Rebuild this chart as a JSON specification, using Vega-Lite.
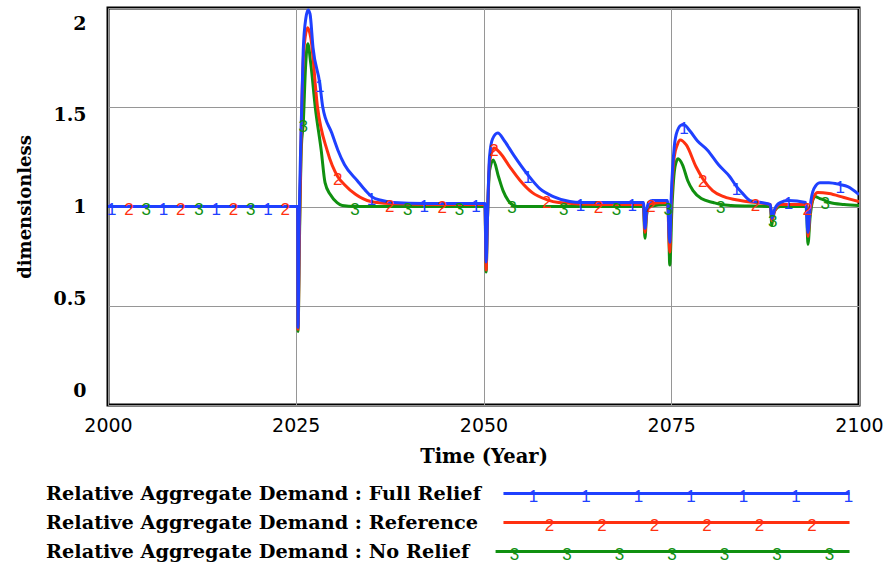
{
  "$schema": "https://vega.github.io/schema/vega-lite/v6.json",
  "background": "white",
  "padding": {"left": 14, "top": 6, "right": 0, "bottom": 0},
  "spacing": 12,
  "config": {
    "view": {"stroke": null},
    "axis": {"ticks": false, "tickSize": 0, "domain": false, "gridColor": "#969696", "gridWidth": 1, "gridOpacity": 1, "labelColor": "black", "titleColor": "black"}
  },
  "datasets": {
    "series": [
      {"s":"No Relief","t":2000,"v":1.0},{"s":"No Relief","t":2005.1,"v":1.0,"m":"3"},{"s":"No Relief","t":2012.1,"v":1.0,"m":"3"},{"s":"No Relief","t":2019.0,"v":1.0,"m":"3"},{"s":"No Relief","t":2025.25,"v":1.0},{"s":"No Relief","t":2025.3,"v":0.37},{"s":"No Relief","t":2025.5,"v":0.85},{"s":"No Relief","t":2025.75,"v":1.3},{"s":"No Relief","t":2026.0,"v":1.42,"m":"3"},{"s":"No Relief","t":2026.3,"v":1.7},{"s":"No Relief","t":2026.6,"v":1.82},{"s":"No Relief","t":2027.0,"v":1.72},{"s":"No Relief","t":2027.6,"v":1.5},{"s":"No Relief","t":2028.4,"v":1.28},{"s":"No Relief","t":2028.9,"v":1.12},{"s":"No Relief","t":2029.6,"v":1.06},{"s":"No Relief","t":2030.5,"v":1.02},{"s":"No Relief","t":2031.2,"v":1.005},{"s":"No Relief","t":2032.9,"v":1.0,"m":"3"},{"s":"No Relief","t":2039.9,"v":1.0,"m":"3"},{"s":"No Relief","t":2046.8,"v":1.0,"m":"3"},{"s":"No Relief","t":2050.2,"v":1.0},{"s":"No Relief","t":2050.35,"v":0.67},{"s":"No Relief","t":2050.5,"v":0.9},{"s":"No Relief","t":2050.8,"v":1.18},{"s":"No Relief","t":2051.3,"v":1.234},{"s":"No Relief","t":2052.0,"v":1.15},{"s":"No Relief","t":2052.6,"v":1.08},{"s":"No Relief","t":2053.3,"v":1.03},{"s":"No Relief","t":2053.8,"v":1.01,"m":"3"},{"s":"No Relief","t":2054.5,"v":1.0},{"s":"No Relief","t":2060.7,"v":1.0,"m":"3"},{"s":"No Relief","t":2067.7,"v":1.0,"m":"3"},{"s":"No Relief","t":2071.3,"v":1.0},{"s":"No Relief","t":2071.5,"v":0.84},{"s":"No Relief","t":2071.7,"v":0.95},{"s":"No Relief","t":2072.0,"v":1.0},{"s":"No Relief","t":2074.5,"v":1.01},{"s":"No Relief","t":2074.6,"v":1.0,"m":"3"},{"s":"No Relief","t":2074.8,"v":0.705},{"s":"No Relief","t":2075.1,"v":1.0},{"s":"No Relief","t":2075.5,"v":1.2},{"s":"No Relief","t":2075.9,"v":1.24},{"s":"No Relief","t":2076.5,"v":1.21},{"s":"No Relief","t":2077.2,"v":1.13},{"s":"No Relief","t":2077.9,"v":1.08},{"s":"No Relief","t":2079.0,"v":1.04},{"s":"No Relief","t":2080.6,"v":1.02},{"s":"No Relief","t":2081.6,"v":1.01,"m":"3"},{"s":"No Relief","t":2083.0,"v":1.005},{"s":"No Relief","t":2088.2,"v":1.0},{"s":"No Relief","t":2088.4,"v":0.905},{"s":"No Relief","t":2088.5,"v":0.94,"m":"3"},{"s":"No Relief","t":2088.8,"v":0.98},{"s":"No Relief","t":2089.5,"v":1.0},{"s":"No Relief","t":2093.0,"v":1.0},{"s":"No Relief","t":2093.2,"v":0.81},{"s":"No Relief","t":2093.5,"v":0.95},{"s":"No Relief","t":2094.1,"v":1.05},{"s":"No Relief","t":2094.8,"v":1.04},{"s":"No Relief","t":2095.5,"v":1.03,"m":"3"},{"s":"No Relief","t":2096.1,"v":1.02},{"s":"No Relief","t":2098.0,"v":1.01},{"s":"No Relief","t":2100.0,"v":1.005},

      {"s":"Reference","t":2000,"v":1.0},{"s":"Reference","t":2002.8,"v":1.0,"m":"2"},{"s":"Reference","t":2009.7,"v":1.0,"m":"2"},{"s":"Reference","t":2016.7,"v":1.0,"m":"2"},{"s":"Reference","t":2023.6,"v":1.0,"m":"2"},{"s":"Reference","t":2025.25,"v":1.0},{"s":"Reference","t":2025.3,"v":0.38},{"s":"Reference","t":2025.5,"v":0.9},{"s":"Reference","t":2025.8,"v":1.5},{"s":"Reference","t":2026.1,"v":1.8},{"s":"Reference","t":2026.6,"v":1.9},{"s":"Reference","t":2027.0,"v":1.85},{"s":"Reference","t":2027.9,"v":1.5},{"s":"Reference","t":2029.2,"v":1.28},{"s":"Reference","t":2030.6,"v":1.15,"m":"2"},{"s":"Reference","t":2031.5,"v":1.11},{"s":"Reference","t":2033.0,"v":1.06},{"s":"Reference","t":2035.0,"v":1.025},{"s":"Reference","t":2037.5,"v":1.015,"m":"2"},{"s":"Reference","t":2044.5,"v":1.01,"m":"2"},{"s":"Reference","t":2050.2,"v":1.01},{"s":"Reference","t":2050.35,"v":0.68},{"s":"Reference","t":2050.5,"v":0.9},{"s":"Reference","t":2050.8,"v":1.22},{"s":"Reference","t":2051.4,"v":1.295,"m":"2"},{"s":"Reference","t":2052.2,"v":1.27},{"s":"Reference","t":2053.5,"v":1.2},{"s":"Reference","t":2054.9,"v":1.13},{"s":"Reference","t":2056.5,"v":1.07},{"s":"Reference","t":2058.4,"v":1.035,"m":"2"},{"s":"Reference","t":2060.0,"v":1.02},{"s":"Reference","t":2065.3,"v":1.01,"m":"2"},{"s":"Reference","t":2071.3,"v":1.01},{"s":"Reference","t":2071.5,"v":0.87},{"s":"Reference","t":2071.7,"v":0.96},{"s":"Reference","t":2072.0,"v":1.01},{"s":"Reference","t":2072.3,"v":1.015,"m":"2"},{"s":"Reference","t":2074.5,"v":1.02},{"s":"Reference","t":2074.8,"v":0.77},{"s":"Reference","t":2075.0,"v":1.0},{"s":"Reference","t":2075.4,"v":1.25},{"s":"Reference","t":2075.8,"v":1.31},{"s":"Reference","t":2076.2,"v":1.335},{"s":"Reference","t":2077.0,"v":1.31},{"s":"Reference","t":2078.3,"v":1.2},{"s":"Reference","t":2079.2,"v":1.14,"m":"2"},{"s":"Reference","t":2080.5,"v":1.08},{"s":"Reference","t":2082.0,"v":1.05},{"s":"Reference","t":2084.2,"v":1.03},{"s":"Reference","t":2086.2,"v":1.02,"m":"2"},{"s":"Reference","t":2088.2,"v":1.01},{"s":"Reference","t":2088.4,"v":0.93},{"s":"Reference","t":2088.8,"v":0.98},{"s":"Reference","t":2089.5,"v":1.01},{"s":"Reference","t":2093.0,"v":1.01},{"s":"Reference","t":2093.1,"v":1.0,"m":"2"},{"s":"Reference","t":2093.2,"v":0.85},{"s":"Reference","t":2093.5,"v":0.98},{"s":"Reference","t":2094.0,"v":1.05},{"s":"Reference","t":2094.5,"v":1.07},{"s":"Reference","t":2096.0,"v":1.065},{"s":"Reference","t":2098.0,"v":1.045},{"s":"Reference","t":2100.0,"v":1.025},

      {"s":"Full Relief","t":2000,"v":1.0},{"s":"Full Relief","t":2000.5,"v":1.0,"m":"1"},{"s":"Full Relief","t":2007.4,"v":1.0,"m":"1"},{"s":"Full Relief","t":2014.4,"v":1.0,"m":"1"},{"s":"Full Relief","t":2021.3,"v":1.0,"m":"1"},{"s":"Full Relief","t":2025.25,"v":1.0},{"s":"Full Relief","t":2025.3,"v":0.39},{"s":"Full Relief","t":2025.45,"v":0.9},{"s":"Full Relief","t":2025.7,"v":1.37},{"s":"Full Relief","t":2026.0,"v":1.79},{"s":"Full Relief","t":2026.35,"v":1.95},{"s":"Full Relief","t":2026.65,"v":1.99},{"s":"Full Relief","t":2026.9,"v":1.97},{"s":"Full Relief","t":2027.3,"v":1.8},{"s":"Full Relief","t":2028.2,"v":1.62,"m":"1"},{"s":"Full Relief","t":2028.6,"v":1.5},{"s":"Full Relief","t":2029.8,"v":1.37},{"s":"Full Relief","t":2030.6,"v":1.285},{"s":"Full Relief","t":2031.5,"v":1.21},{"s":"Full Relief","t":2033.2,"v":1.13},{"s":"Full Relief","t":2034.3,"v":1.08},{"s":"Full Relief","t":2035.1,"v":1.05,"m":"1"},{"s":"Full Relief","t":2036.5,"v":1.03},{"s":"Full Relief","t":2038.0,"v":1.02},{"s":"Full Relief","t":2042.1,"v":1.015,"m":"1"},{"s":"Full Relief","t":2049.0,"v":1.015,"m":"1"},{"s":"Full Relief","t":2050.2,"v":1.015},{"s":"Full Relief","t":2050.35,"v":0.72},{"s":"Full Relief","t":2050.5,"v":0.9},{"s":"Full Relief","t":2050.8,"v":1.25},{"s":"Full Relief","t":2051.2,"v":1.34},{"s":"Full Relief","t":2051.9,"v":1.37},{"s":"Full Relief","t":2052.8,"v":1.33},{"s":"Full Relief","t":2054.0,"v":1.26},{"s":"Full Relief","t":2055.9,"v":1.16,"m":"1"},{"s":"Full Relief","t":2057.5,"v":1.09},{"s":"Full Relief","t":2059.3,"v":1.05},{"s":"Full Relief","t":2061.5,"v":1.025},{"s":"Full Relief","t":2062.9,"v":1.02,"m":"1"},{"s":"Full Relief","t":2069.8,"v":1.02,"m":"1"},{"s":"Full Relief","t":2071.3,"v":1.02},{"s":"Full Relief","t":2071.5,"v":0.89},{"s":"Full Relief","t":2071.7,"v":0.97},{"s":"Full Relief","t":2072.0,"v":1.02},{"s":"Full Relief","t":2072.5,"v":1.03},{"s":"Full Relief","t":2074.5,"v":1.03},{"s":"Full Relief","t":2074.8,"v":0.82},{"s":"Full Relief","t":2075.0,"v":1.05},{"s":"Full Relief","t":2075.4,"v":1.3},{"s":"Full Relief","t":2075.8,"v":1.38},{"s":"Full Relief","t":2076.4,"v":1.41},{"s":"Full Relief","t":2076.7,"v":1.41,"m":"1"},{"s":"Full Relief","t":2077.5,"v":1.38},{"s":"Full Relief","t":2078.5,"v":1.33},{"s":"Full Relief","t":2079.8,"v":1.285},{"s":"Full Relief","t":2081.3,"v":1.21},{"s":"Full Relief","t":2082.8,"v":1.15},{"s":"Full Relief","t":2083.7,"v":1.1,"m":"1"},{"s":"Full Relief","t":2084.4,"v":1.07},{"s":"Full Relief","t":2085.5,"v":1.03},{"s":"Full Relief","t":2087.0,"v":1.02},{"s":"Full Relief","t":2088.2,"v":1.01},{"s":"Full Relief","t":2088.4,"v":0.94},{"s":"Full Relief","t":2088.8,"v":0.99},{"s":"Full Relief","t":2089.5,"v":1.02},{"s":"Full Relief","t":2090.6,"v":1.03,"m":"1"},{"s":"Full Relief","t":2092.9,"v":1.02},{"s":"Full Relief","t":2093.2,"v":0.87},{"s":"Full Relief","t":2093.5,"v":1.0},{"s":"Full Relief","t":2094.0,"v":1.09},{"s":"Full Relief","t":2094.8,"v":1.12},{"s":"Full Relief","t":2096.0,"v":1.12},{"s":"Full Relief","t":2097.5,"v":1.11,"m":"1"},{"s":"Full Relief","t":2098.5,"v":1.1},{"s":"Full Relief","t":2100.0,"v":1.06}
    ],
    "legend": [
      {"s":"Full Relief","label":"Relative Aggregate Demand : Full Relief"},
      {"s":"Reference","label":"Relative Aggregate Demand : Reference"},
      {"s":"No Relief","label":"Relative Aggregate Demand : No Relief"}
    ],
    "legendMarks": [
      {"s":"Full Relief","k":0,"m":"1"},{"s":"Full Relief","k":1,"m":"1"},{"s":"Full Relief","k":2,"m":"1"},{"s":"Full Relief","k":3,"m":"1"},{"s":"Full Relief","k":4,"m":"1"},{"s":"Full Relief","k":5,"m":"1"},{"s":"Full Relief","k":6,"m":"1"},
      {"s":"Reference","k":0,"m":"2"},{"s":"Reference","k":1,"m":"2"},{"s":"Reference","k":2,"m":"2"},{"s":"Reference","k":3,"m":"2"},{"s":"Reference","k":4,"m":"2"},{"s":"Reference","k":5,"m":"2"},
      {"s":"No Relief","k":0,"m":"3"},{"s":"No Relief","k":1,"m":"3"},{"s":"No Relief","k":2,"m":"3"},{"s":"No Relief","k":3,"m":"3"},{"s":"No Relief","k":4,"m":"3"},{"s":"No Relief","k":5,"m":"3"},{"s":"No Relief","k":6,"m":"3"}
    ]
  },
  "vconcat": [
    {
      "width": 751,
      "height": 397,
      "view": {"stroke": "black", "strokeWidth": 3},
      "data": {"name": "series"},
      "encoding": {
        "x": {"field": "t", "type": "quantitative", "scale": {"domain": [2000, 2100], "nice": false, "zero": false},
          "axis": {"values": [2000, 2025, 2050, 2075, 2100], "format": "d", "title": "Time (Year)", "grid": true,
            "labelFont": "DejaVu Sans", "labelFontSize": 19, "labelPadding": 11, "labelFlush": false,
            "titleFont": "DejaVu Serif", "titleFontSize": 19.5, "titleFontWeight": "bold", "titleY": 57, "titleBaseline": "alphabetic"}},
        "y": {"field": "v", "type": "quantitative", "scale": {"domain": [0, 2], "nice": false, "zero": false},
          "axis": {"values": [0, 0.5, 1, 1.5, 2], "labelExpr": "'' + datum.value", "title": "dimensionless", "grid": true,
            "labelFont": "DejaVu Serif", "labelFontWeight": "bold", "labelFontSize": 19, "labelPadding": 22,
            "labelOffset": {"expr": "(datum.value - 1) * 15"},
            "titleFont": "DejaVu Serif", "titleFontSize": 18, "titleFontWeight": "bold", "titleX": -78, "titleBaseline": "alphabetic"}},
        "color": {"field": "s", "type": "nominal", "scale": {"domain": ["Full Relief", "Reference", "No Relief"], "range": ["#1f40ff", "#ff3010", "#109010"]}, "legend": null}
      },
      "layer": [
        {"mark": {"type": "line", "strokeWidth": 3, "clip": true, "interpolate": "monotone"}},
        {"transform": [{"filter": "datum.m != null"}],
         "mark": {"type": "text", "font": "Liberation Sans", "fontSize": 17, "baseline": "alphabetic", "dy": 8.5, "clip": true},
         "encoding": {"text": {"field": "m"}}}
      ]
    },
    {
      "width": 751,
      "height": 87,
      "encoding": {
        "y": {"field": "s", "type": "nominal", "scale": {"type": "point", "domain": ["Full Relief", "Reference", "No Relief"], "padding": 0.5}, "axis": null},
        "color": {"field": "s", "type": "nominal", "scale": {"domain": ["Full Relief", "Reference", "No Relief"], "range": ["#1f40ff", "#ff3010", "#109010"]}, "legend": null}
      },
      "layer": [
        {"data": {"name": "legend"},
         "mark": {"type": "text", "align": "left", "baseline": "alphabetic", "dy": 6.8, "font": "DejaVu Serif", "fontWeight": "bold", "fontSize": 19.3},
         "encoding": {"x": {"datum": -9.28, "type": "quantitative", "scale": {"domain": [-8.1, 6.2], "nice": false, "zero": false}, "axis": null},
                      "text": {"field": "label"}, "color": {"value": "black"}}},
        {"data": {"name": "legend"}, "transform": [{"filter": "datum.s != 'No Relief'"}],
         "mark": {"type": "rule", "strokeWidth": 3},
         "encoding": {"x": {"datum": -0.57, "type": "quantitative", "scale": {"domain": [-8.1, 6.2], "nice": false, "zero": false}, "axis": null},
                      "x2": {"datum": 6.02}}},
        {"data": {"name": "legend"}, "transform": [{"filter": "datum.s == 'No Relief'"}],
         "mark": {"type": "rule", "strokeWidth": 3},
         "encoding": {"x": {"datum": -0.72, "type": "quantitative", "scale": {"domain": [-8.1, 6.2], "nice": false, "zero": false}, "axis": null},
                      "x2": {"datum": 6.02}}},
        {"data": {"name": "legendMarks"}, "transform": [{"filter": "datum.s == 'Full Relief'"}],
         "mark": {"type": "text", "font": "Liberation Sans", "fontSize": 17, "baseline": "alphabetic", "dy": 8.5},
         "encoding": {"x": {"field": "k", "type": "quantitative", "scale": {"domain": [-8.1, 6.2], "nice": false, "zero": false}, "axis": null},
                      "text": {"field": "m"}}},
        {"data": {"name": "legendMarks"}, "transform": [{"filter": "datum.s == 'Reference'"}],
         "mark": {"type": "text", "font": "Liberation Sans", "fontSize": 17, "baseline": "alphabetic", "dy": 8.5, "dx": 16},
         "encoding": {"x": {"field": "k", "type": "quantitative", "scale": {"domain": [-8.1, 6.2], "nice": false, "zero": false}, "axis": null},
                      "text": {"field": "m"}}},
        {"data": {"name": "legendMarks"}, "transform": [{"filter": "datum.s == 'No Relief'"}],
         "mark": {"type": "text", "font": "Liberation Sans", "fontSize": 17, "baseline": "alphabetic", "dy": 8.5, "dx": -19},
         "encoding": {"x": {"field": "k", "type": "quantitative", "scale": {"domain": [-8.1, 6.2], "nice": false, "zero": false}, "axis": null},
                      "text": {"field": "m"}}}
      ]
    }
  ]
}
